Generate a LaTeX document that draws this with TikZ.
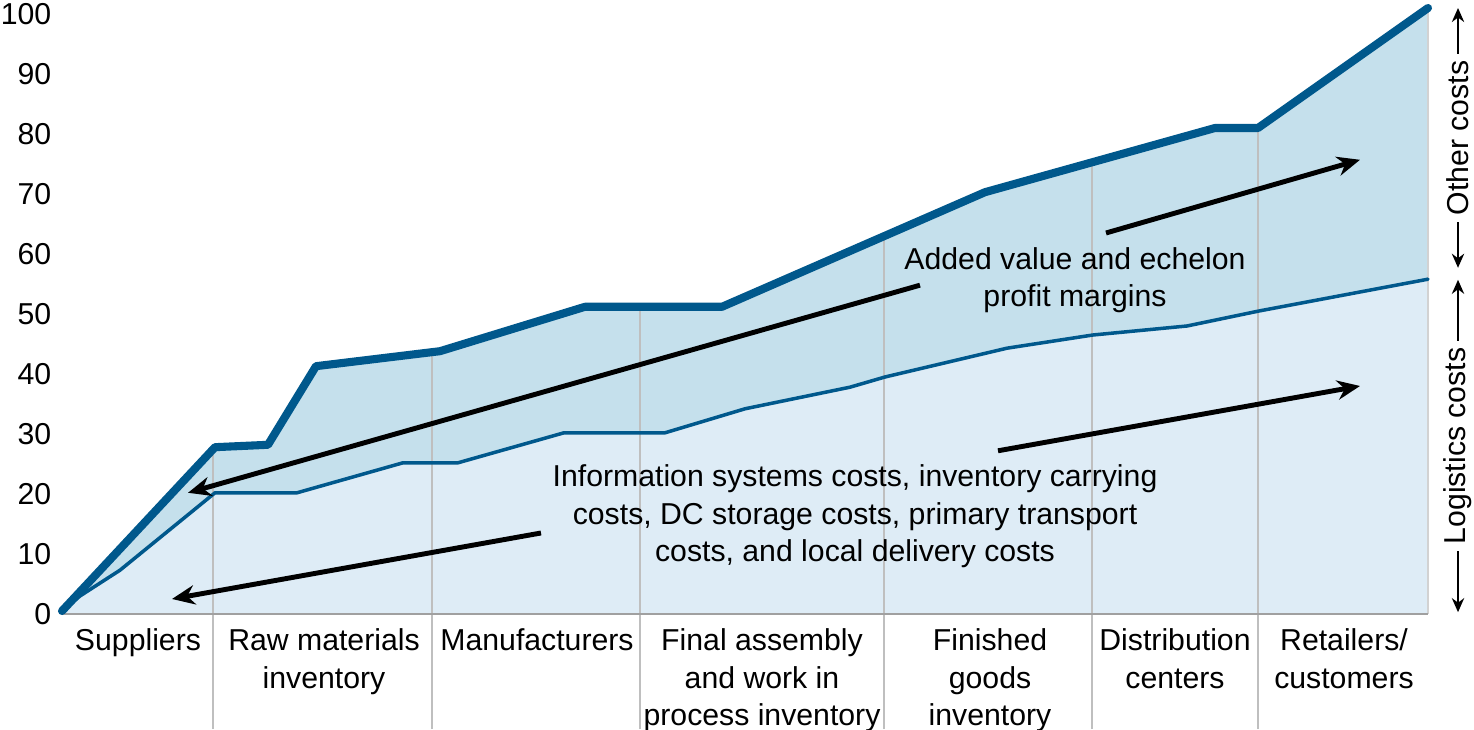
\documentclass[tikz,border=0pt]{standalone}
\usepackage{fontspec}
\setmainfont{Liberation Sans}
\usetikzlibrary{arrows.meta}
\definecolor{kurvenblau}{RGB}{0,88,140}
\definecolor{margenblau}{RGB}{197,224,236}
\definecolor{logistikblau}{RGB}{222,236,246}
\definecolor{trenngrau}{RGB}{191,191,191}
\definecolor{achsgrau}{RGB}{160,160,160}

\begin{document}
\begin{tikzpicture}[x=0.1mm, y=0.6mm, font=\fontsize{8.6}{10.6}\selectfont,
    kurve/.style={kurvenblau, line join=round, line cap=round},
    pfeil/.style={-{Stealth[length=6.5pt, width=5.5pt]}, line width=1.4pt},
    seitenpfeil/.style={{Stealth[length=4pt, width=3.5pt]}-{Stealth[length=4pt, width=3.5pt]}, line width=0.6pt},
    stufe/.style={align=center, anchor=north, inner sep=0pt}]
    \useasboundingbox (0,-19.17) rectangle (1474,102.33);

    % Kurven
    \def\oben{(62,0.5) -- (215,27.8) -- (268,28.2) -- (316,41.3) -- (440,43.8) -- (585,51.2) -- (722,51.2) -- (985,70.3) -- (1215,81) -- (1258,81) -- (1428,101)}
    \def\unten{(62,0.5) -- (80,3) -- (120,7.3) -- (215,20.2) -- (297,20.2) -- (403,25.2) -- (458,25.2) -- (564,30.2) -- (665,30.2) -- (745,34.2) -- (850,37.8) -- (885,39.5) -- (1007,44.3) -- (1093,46.5) -- (1187,48) -- (1259,50.5) -- (1428,55.8)}

    % Flächen
    \fill[margenblau] \oben -- (1428,0) -- (62,0) -- cycle;
    \fill[logistikblau] \unten -- (1428,0) -- (62,0) -- cycle;

    % Trennlinien
    \foreach \x/\t in {213/27.6, 432/43.6, 640/51.2, 884/63, 1092/75.3, 1258/81}
      \draw[trenngrau, line width=0.6pt] (\x,-19.17) -- (\x,\t);
    \draw[trenngrau!70, line width=0.5pt] (1428,0) -- (1428,101);

    % Achse
    \draw[achsgrau, line width=0.8pt] (62,0) -- (1428,0);

    \draw[kurve, line width=1pt] \unten;
    \draw[kurve, line width=2.3pt] \oben;

    % Markierungen
    \foreach \v in {0,10,...,100}
      \node[anchor=east, inner sep=0pt] (t\v) at (52,\v) {\v};

    % Stufen der Kette
    \node[stufe] (lieferanten) at (138,-2.4) {Suppliers};
    \node[stufe] (rohstoffe) at (324,-2.4) {Raw materials\\inventory};
    \node[stufe] (hersteller) at (537,-2.4) {Manufacturers};
    \node[stufe] (endmontage) at (762,-2.4) {Final assembly\\and work in\\process inventory};
    \node[stufe] (fertigwaren) at (990,-2.4) {Finished\\goods\\inventory};
    \node[stufe] (verteiler) at (1175,-2.4) {Distribution\\centers};
    \node[stufe] (handel) at (1344,-2.4) {Retailers/\\customers};

    % Beschriftungen
    \node[align=center] (marge) at (1075,55.6) {Added value and echelon\\profit margins};
    \node[align=center] (logtext) at (855,16.3) {Information systems costs, inventory carrying\\costs, DC storage costs, primary transport\\costs, and local delivery costs};

    % Pfeile
    \coordinate (m1) at (920,54.8);
    \coordinate (m2) at (188,20.2);
    \coordinate (m3) at (1106,63.5);
    \coordinate (m4) at (1360,75.7);
    \coordinate (l1) at (541,13.5);
    \coordinate (l2) at (172,2.5);
    \coordinate (l3) at (998,27.2);
    \coordinate (l4) at (1360,38);
    \draw[pfeil] (m1) -- (m2);
    \draw[pfeil] (m3) -- (m4);
    \draw[pfeil] (l1) -- (l2);
    \draw[pfeil] (l3) -- (l4);

    % Seitenklammern
    \coordinate (s1) at (1458,101);
    \coordinate (s2) at (1458,57.7);
    \coordinate (s3) at (1458,55.7);
    \coordinate (s4) at (1458,0.3);
    \draw[seitenpfeil] (s1) -- (s2) node[midway, rotate=90, fill=white, inner sep=2pt] (sonstige) {Other costs};
    \draw[seitenpfeil] (s3) -- (s4) node[midway, rotate=90, fill=white, inner sep=2pt] (logistik) {Logistics costs};

  \end{tikzpicture}
\end{document}
